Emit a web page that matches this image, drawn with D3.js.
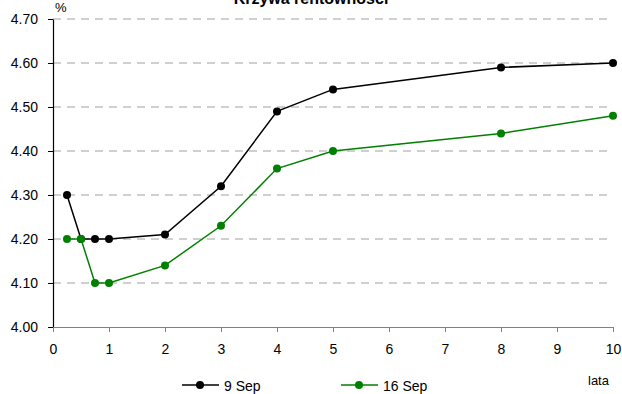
<!DOCTYPE html>
<html>
<head>
<meta charset="utf-8">
<script src="https://cdn.jsdelivr.net/npm/d3@7"></script>
<style>
  html, body { margin: 0; padding: 0; background: #fff; }
  svg { display: block; font-family: "Liberation Sans", Arial, sans-serif; }
</style>
</head>
<body>
<svg id="chart" width="622" height="394"></svg>
<script>
// Maturities in years
const maturities = [0.25, 0.5, 0.75, 1, 2, 3, 4, 5, 8, 10];
// Yields (%) on each date
const sep9  = [4.30, 4.20, 4.20, 4.20, 4.21, 4.32, 4.49, 4.54, 4.59, 4.60];
const sep16 = [4.20, 4.20, 4.10, 4.10, 4.14, 4.23, 4.36, 4.40, 4.44, 4.48];
const seriesNames = ["9 Sep", "16 Sep"];
const seriesColors = ["#000000", "#008000"];
const xTicks = [0, 1, 2, 3, 4, 5, 6, 7, 8, 9, 10];
const yTicks = [4.00, 4.10, 4.20, 4.30, 4.40, 4.50, 4.60, 4.70];

(function () {
  const svg = d3.select("#chart");
  const plotLeft = 53, plotRight = 613, plotTop = 19, plotBottom = 327;

  const x = d3.scaleLinear().domain([0, 10]).range([plotLeft, plotRight]);
  const y = d3.scaleLinear().domain([4.0, 4.7]).range([plotBottom, plotTop]);

  // Title (partly above the top edge)
  svg.append("text")
    .attr("x", 311).attr("y", 4)
    .attr("text-anchor", "middle")
    .attr("font-size", 16).attr("font-weight", "bold")
    .text("Krzywa rentowności");

  // Dashed horizontal gridlines
  svg.append("g").selectAll("line")
    .data(yTicks.filter(d => d > 4.0))
    .join("line")
    .attr("x1", plotLeft).attr("x2", plotRight)
    .attr("y1", d => y(d)).attr("y2", d => y(d))
    .attr("stroke", "#a0a0a0").attr("stroke-width", 1)
    .attr("stroke-dasharray", "8,6");

  // Y axis
  const yAxis = svg.append("g")
    .attr("transform", `translate(${plotLeft},0)`)
    .call(d3.axisLeft(y).tickValues(yTicks).tickFormat(d3.format(".2f")).tickSize(5).tickSizeOuter(0));
  yAxis.select(".domain").attr("stroke", "#000").attr("stroke-width", 1.2);
  yAxis.selectAll(".tick line").attr("stroke", "#000");
  yAxis.selectAll("text").attr("font-size", 14).attr("fill", "#000")
    .attr("font-family", "Liberation Sans, Arial, sans-serif").attr("x", -15);

  // X axis
  const xAxis = svg.append("g")
    .attr("transform", `translate(0,${plotBottom})`)
    .call(d3.axisBottom(x).tickValues(xTicks).tickFormat(d3.format("d")).tickSize(5).tickSizeOuter(0));
  xAxis.select(".domain").attr("stroke", "#808080").attr("stroke-width", 1.2);
  xAxis.selectAll(".tick line").attr("stroke", "#808080");
  xAxis.selectAll("text").attr("font-size", 14).attr("fill", "#000")
    .attr("font-family", "Liberation Sans, Arial, sans-serif").attr("y", 17);

  // Axis unit labels
  svg.append("text").attr("x", 55).attr("y", 12).attr("font-size", 13).text("%");
  svg.append("text").attr("x", 588).attr("y", 385).attr("font-size", 13).text("lata");

  // Series lines and markers
  const line = d3.line().x(d => x(d[0])).y(d => y(d[1]));
  [sep9, sep16].forEach((vals, i) => {
    const pts = maturities.map((m, j) => [m, vals[j]]);
    svg.append("path").datum(pts)
      .attr("d", line).attr("fill", "none")
      .attr("stroke", seriesColors[i]).attr("stroke-width", 1.5);
    svg.append("g").selectAll("circle").data(pts).join("circle")
      .attr("cx", d => x(d[0])).attr("cy", d => y(d[1])).attr("r", 4)
      .attr("fill", seriesColors[i]);
  });

  // Legend
  const legendX = [182, 341];
  seriesNames.forEach((name, i) => {
    const g = svg.append("g").attr("transform", `translate(${legendX[i]},385)`);
    g.append("line").attr("x1", 0).attr("x2", 37).attr("y1", 0).attr("y2", 0)
      .attr("stroke", seriesColors[i]).attr("stroke-width", 1.5);
    g.append("circle").attr("cx", 18).attr("cy", 0).attr("r", 4).attr("fill", seriesColors[i]);
    g.append("text").attr("x", 42).attr("y", 6).attr("font-size", 14).text(name);
  });
})();
</script>
</body>
</html>
